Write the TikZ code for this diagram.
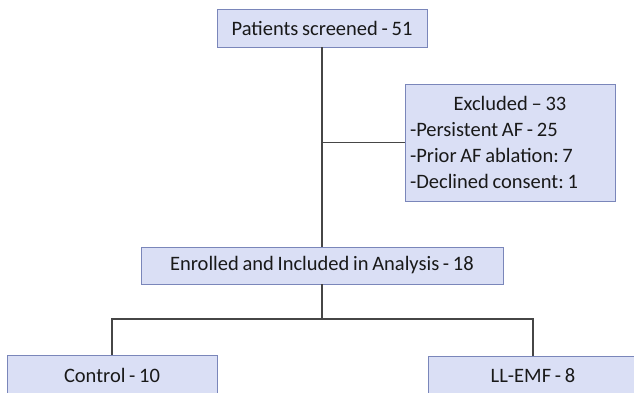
\documentclass[tikz,border=0pt]{standalone}
\usepackage{fontspec}
\setmainfont{Carlito}[WordSpace=0.8]
\frenchspacing
\definecolor{boxfill}{RGB}{218,223,245}
\definecolor{boxborder}{RGB}{122,134,186}
\definecolor{linegray}{RGB}{70,70,70}
\definecolor{txt}{RGB}{25,25,25}
\begin{document}
\begin{tikzpicture}[x=1pt,y=-1pt,
  box/.style={draw=boxborder, fill=boxfill, line width=0.9pt, inner sep=0pt,
    text=txt, font=\fontsize{20.5}{26}\selectfont},
  conn/.style={draw=linegray, line width=1.1pt}]
\clip (0,0) rectangle (634,392);
\fill[white] (0,0) rectangle (634,392);
\node[box, minimum width=210pt, minimum height=38pt] (pat) at (322,28) {Patients screened - 51};
\node[box, minimum width=210pt, minimum height=117pt, inner xsep=5pt, text width=200pt, align=left] (exc) at (510,142.5)
  {\spaceskip=0pt\xspaceskip=0pt\relax\makebox[\linewidth][c]{Excluded -- 33}\\-Persistent AF - 25\\-Prior AF ablation: 7\\-Declined consent: 1};
\node[box, minimum width=362pt, minimum height=37pt] (enr) at (322,265.5) {Enrolled and Included in Analysis - 18};
\node[box, minimum width=210pt, minimum height=40pt] (ctl) at (112,375) {Control - 10};
\node[box, minimum width=210pt, minimum height=40pt] (llm) at (533,376) {LL-EMF - 8};
\coordinate (split) at (322,319);
\draw[conn] (pat.south) -- (enr.north);
\draw[conn] (pat.south |- exc.west) -- (exc.west);
\draw[conn] (enr.south) -- (split);
\draw[conn] (ctl.north) |- (split) -| (llm.north);
\end{tikzpicture}
\end{document}
